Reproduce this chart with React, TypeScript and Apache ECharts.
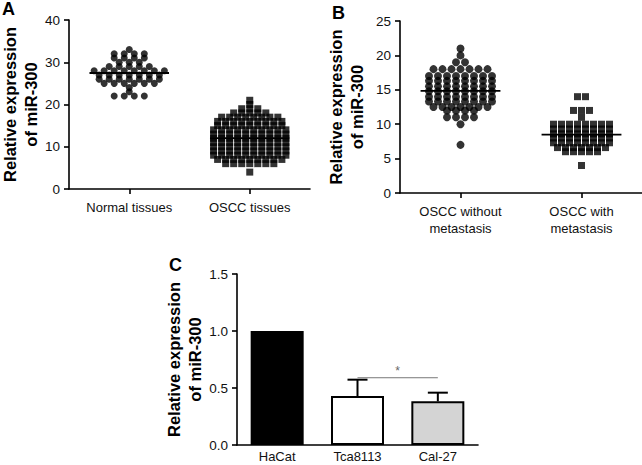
import React, { useEffect, useRef } from "react";
import * as echarts from "echarts";

// ---- Panel A ----
const panelACategories = ["Normal tissues", "OSCC tissues"];
const normalTissues = [
  33, 32, 32, 32, 32, 31, 31, 31, 31, 30, 30, 30, 29, 29, 29, 29, 29,
  28, 28, 28, 28, 28, 28, 28, 28, 27, 27, 27, 27, 27, 27, 27,
  26, 26, 26, 26, 26, 26, 26, 25, 25, 25, 25, 25, 25, 24, 23, 22, 22, 22, 22,
];
const osccTissues = [
  21, 20, 19, 19, 19, 18, 18, 18, 18, 18, 17, 17, 17, 17, 17, 17, 17, 17,
  16, 16, 16, 16, 16, 16, 16, 16, 16, 15, 15, 15, 15, 15, 15, 15, 15, 15,
  14, 14, 14, 14, 14, 14, 14, 14, 14, 14, 13, 13, 13, 13, 13, 13, 13, 13, 13, 13,
  12, 12, 12, 12, 12, 12, 12, 12, 12, 12, 11, 11, 11, 11, 11, 11, 11, 11, 11, 11,
  10, 10, 10, 10, 10, 10, 10, 10, 10, 10, 9, 9, 9, 9, 9, 9, 9, 9, 9, 9,
  8, 8, 8, 8, 8, 8, 8, 8, 8, 8, 7, 7, 7, 7, 7, 7, 7, 7, 7,
  6, 6, 6, 6, 6, 6, 6, 4,
];
const yTicksA = { min: 0, max: 40, interval: 10 };

// ---- Panel B ----
const panelBCategories = ["OSCC without\nmetastasis", "OSCC with\nmetastasis"];
const withoutMetastasis = [
  21, 20, 19, 19, 18, 18, 18, 18, 18, 18, 18, 17, 17, 17, 17, 17, 17, 17, 17,
  16.3, 16.3, 16.3, 16.3, 16.3, 16.3, 16.3, 16.3,
  15.5, 15.5, 15.5, 15.5, 15.5, 15.5, 15.5, 15.5,
  14.8, 14.8, 14.8, 14.8, 14.8, 14.8, 14.8, 14.8,
  14, 14, 14, 14, 14, 14, 14, 14,
  13.3, 13.3, 13.3, 13.3, 13.3, 13.3, 13.3, 13.3,
  12.5, 12.5, 12.5, 12.5, 12.5, 12.5, 12.5,
  12, 12, 12, 12, 11, 11, 11, 11, 10, 7,
];
const withMetastasis = [
  14, 14, 12, 12, 12, 11,
  10, 10, 10, 10, 10, 10, 10, 10,
  9.3, 9.3, 9.3, 9.3, 9.3, 9.3, 9.3, 9.3,
  8.6, 8.6, 8.6, 8.6, 8.6, 8.6, 8.6, 8.6,
  8, 8, 8, 8, 8, 8, 8, 8,
  7.3, 7.3, 7.3, 7.3, 7.3, 7.3, 7.3, 7.3,
  6.6, 6.6, 6.6, 6.6, 6.6, 6.6, 6.6,
  6, 6, 6, 6, 6, 4,
];
const yTicksB = { min: 0, max: 25, interval: 5 };

// ---- Panel C ----
const panelCCategories = ["HaCat", "Tca8113", "Cal-27"];
const panelCMeans = [1.0, 0.43, 0.383];
const panelCUpper = [1.0, 0.573, 0.459];
const panelCFills = ["#000000", "#ffffff", "#d4d4d4"];
const significance = { from: 1, to: 2, level: 0.59, label: "*" };
const yTicksC = { min: 0, max: 1.5, interval: 0.5 };

const FONT = "Liberation Sans, Arial, sans-serif";

function swarm(values: number[], center: number, spacing: number) {
  const groups = new Map<number, number>();
  values.forEach((v) => groups.set(v, (groups.get(v) || 0) + 1));
  const pts: number[][] = [];
  groups.forEach((n, v) => {
    for (let i = 0; i < n; i++) pts.push([center + (i - (n - 1) / 2) * spacing, v]);
  });
  return pts;
}
const mean = (a: number[]) => a.reduce((s, v) => s + v, 0) / a.length;

export default function App() {
  const ref = useRef<HTMLDivElement>(null);
  useEffect(() => {
    if (!ref.current) return;
    const chart = echarts.init(ref.current, undefined, { renderer: "svg" });
    const axisLine = { show: true, onZero: false, lineStyle: { color: "#000", width: 1.6 } };
    const axisTick = { show: true, length: 5, lineStyle: { color: "#000", width: 1.6 } };
    const yLabel = { color: "#111", fontSize: 13.5, margin: 9, fontFamily: FONT };
    const xLabel = { color: "#111", fontSize: 13, margin: 10, fontFamily: FONT, lineHeight: 17, interval: 0 };
    const yName = "Relative expression\nof miR-300";
    const nameStyle = { fontSize: 16.5, fontWeight: "bold", color: "#000", fontFamily: FONT, lineHeight: 21 };
    const catAxis = (grid: number, data: string[], ticks: boolean, label: any) => ({
      type: "category", gridIndex: grid, data, axisLine,
      axisTick: ticks ? { ...axisTick, alignWithLabel: true, interval: 0 } : { show: false },
      axisLabel: label, splitLine: { show: false },
    });
    const valX = (grid: number) => ({ type: "value", gridIndex: grid, min: -0.5, max: 1.5, show: false });
    const valY = (grid: number, t: any, gap: number, fmt?: any) => ({
      type: "value", gridIndex: grid, min: t.min, max: t.max, interval: t.interval,
      axisLine, axisTick, axisLabel: fmt ? { ...yLabel, formatter: fmt } : yLabel,
      splitLine: { show: false }, name: yName, nameLocation: "middle", nameGap: gap,
      nameTextStyle: nameStyle,
    });
    const meanLine = (xi: number, yi: number, idx: number, vals: number[]) => ({
      type: "line", xAxisIndex: xi, yAxisIndex: yi, symbol: "none", z: 5,
      lineStyle: { color: "#000", width: 1.8 },
      data: [[idx - 0.33, mean(vals)], [idx + 0.33, mean(vals)]],
    });
    const scatter = (xi: number, yi: number, data: number[][], symbol: string, size: number) => ({
      type: "scatter", xAxisIndex: xi, yAxisIndex: yi, symbol, symbolSize: size,
      itemStyle: { color: "#000" }, data,
    });
    const gridBase = { containLabel: false, outerBoundsMode: "none" };

    chart.setOption({
      animation: false,
      textStyle: { fontFamily: FONT },
      grid: [
        { ...gridBase, left: 69, top: 20, width: 241, height: 169 },
        { ...gridBase, left: 400, top: 21, width: 242, height: 172 },
        { ...gridBase, left: 237, top: 274, width: 241, height: 171 },
      ],
      xAxis: [
        catAxis(0, panelACategories, true, xLabel),
        valX(0),
        catAxis(1, panelBCategories, true, xLabel),
        valX(1),
        catAxis(2, panelCCategories, false, { ...xLabel, margin: 4, lineHeight: 14 }),
      ],
      yAxis: [
        valY(0, yTicksA, 28),
        valY(1, yTicksB, 33),
        valY(2, yTicksC, 32, (v: number) => v.toFixed(1)),
      ],
      series: [
        scatter(1, 0, swarm(normalTissues, 0, 10 / 120), "circle", 7),
        scatter(1, 0, swarm(osccTissues, 1, 8 / 120), "rect", 7),
        meanLine(1, 0, 0, normalTissues),
        meanLine(1, 0, 1, osccTissues),
        scatter(3, 1, swarm(withoutMetastasis, 0, 9 / 121), "circle", 8),
        scatter(3, 1, swarm(withMetastasis, 1, 8 / 121), "rect", 7),
        meanLine(3, 1, 0, withoutMetastasis),
        meanLine(3, 1, 1, withMetastasis),
        {
          type: "bar", xAxisIndex: 4, yAxisIndex: 2, barWidth: 53,
          data: panelCMeans.map((v, i) => ({
            value: v,
            itemStyle: { color: panelCFills[i], borderColor: "#000", borderWidth: 2 },
          })),
        },
        {
          type: "custom", xAxisIndex: 4, yAxisIndex: 2, z: 1,
          encode: { x: 0, y: [1, 2] },
          data: panelCMeans.map((m, i) => [i, m, panelCUpper[i]]).filter((d) => d[2] > d[1]),
          renderItem: (params: any, api: any) => {
            const x = api.value(0);
            const base = api.coord([x, api.value(1)]);
            const top = api.coord([x, api.value(2)]);
            return {
              type: "group",
              children: [
                { type: "line", shape: { x1: top[0], y1: base[1], x2: top[0], y2: top[1] }, style: { stroke: "#000", lineWidth: 2 } },
                { type: "line", shape: { x1: top[0] - 10, y1: top[1], x2: top[0] + 10, y2: top[1] }, style: { stroke: "#000", lineWidth: 2 } },
              ],
            };
          },
        },
        {
          type: "custom", xAxisIndex: 4, yAxisIndex: 2, z: 3,
          encode: { x: [0, 1], y: 2 },
          data: [[significance.from, significance.to, significance.level]],
          renderItem: (params: any, api: any) => {
            const a = api.coord([api.value(0), api.value(2)]);
            const b = api.coord([api.value(1), api.value(2)]);
            return {
              type: "group",
              children: [
                { type: "line", shape: { x1: a[0], y1: a[1], x2: b[0], y2: b[1] }, style: { stroke: "#777", lineWidth: 1 } },
                {
                  type: "text",
                  style: {
                    text: significance.label, x: (a[0] + b[0]) / 2, y: a[1] - 1,
                    align: "center", verticalAlign: "bottom", textAlign: "center", textVerticalAlign: "bottom",
                    fill: "#666", fontSize: 12, fontFamily: FONT,
                  },
                },
              ],
            };
          },
        },
      ],
      graphic: [
        { type: "text", left: 2, top: 0, style: { text: "A", font: `bold 18px ${FONT}`, fill: "#000" } },
        { type: "text", left: 332, top: 4, style: { text: "B", font: `bold 18px ${FONT}`, fill: "#000" } },
        { type: "text", left: 169, top: 256, style: { text: "C", font: `bold 18px ${FONT}`, fill: "#000" } },
      ],
    });
    return () => chart.dispose();
  }, []);
  return (
    <div
      ref={ref}
      style={{ position: "absolute", left: 0, top: 0, width: 642, height: 465, background: "#fff" }}
    />
  );
}
